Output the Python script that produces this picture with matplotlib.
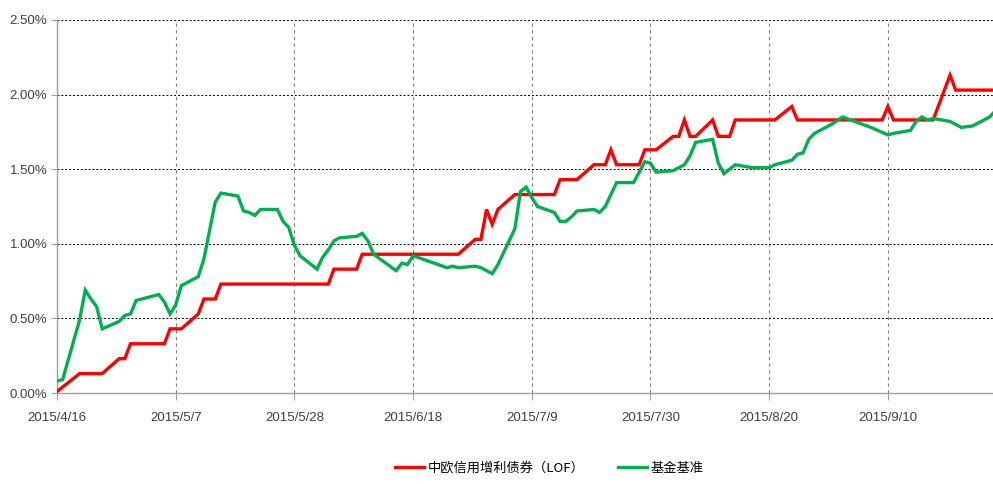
import numpy as np
import pandas as pd
import matplotlib
matplotlib.use('Agg')
import matplotlib.pyplot as plt
import matplotlib.dates as mdates
from matplotlib.ticker import FuncFormatter

# ---- data (cumulative return, %) ----
fund_name = '中欧信用增利债券（LOF）'
bench_name = '基金基准'

fund_dates = ['2015-04-16', '2015-04-20', '2015-04-24', '2015-04-27', '2015-04-28',
              '2015-04-29', '2015-05-05', '2015-05-06', '2015-05-08', '2015-05-11',
              '2015-05-12', '2015-05-14', '2015-05-15', '2015-06-03', '2015-06-04',
              '2015-06-08', '2015-06-09', '2015-06-26', '2015-06-29', '2015-06-30',
              '2015-07-01', '2015-07-02', '2015-07-03', '2015-07-06', '2015-07-13',
              '2015-07-14', '2015-07-17', '2015-07-20', '2015-07-22', '2015-07-23',
              '2015-07-24', '2015-07-28', '2015-07-29', '2015-07-31', '2015-08-03',
              '2015-08-04', '2015-08-05', '2015-08-06', '2015-08-07', '2015-08-10',
              '2015-08-11', '2015-08-13', '2015-08-14', '2015-08-21', '2015-08-24',
              '2015-08-25', '2015-09-09', '2015-09-10', '2015-09-11', '2015-09-18',
              '2015-09-21', '2015-09-22', '2015-09-29']
fund_vals = [0.01, 0.13, 0.13, 0.23, 0.23,
             0.33, 0.33, 0.43, 0.43, 0.53,
             0.63, 0.63, 0.73, 0.73, 0.83,
             0.83, 0.93, 0.93, 1.03, 1.03,
             1.23, 1.13, 1.23, 1.33, 1.33,
             1.43, 1.43, 1.53, 1.53, 1.63,
             1.53, 1.53, 1.63, 1.63, 1.72,
             1.72, 1.83, 1.72, 1.72, 1.83,
             1.72, 1.72, 1.83, 1.83, 1.92,
             1.83, 1.83, 1.92, 1.83, 1.83,
             2.13, 2.03, 2.03]

bench_dates = ['2015-04-16', '2015-04-17', '2015-04-20', '2015-04-21', '2015-04-22',
               '2015-04-23', '2015-04-24', '2015-04-27', '2015-04-28', '2015-04-29',
               '2015-04-30', '2015-05-04', '2015-05-05', '2015-05-06', '2015-05-07',
               '2015-05-08', '2015-05-11', '2015-05-12', '2015-05-13', '2015-05-14',
               '2015-05-15', '2015-05-18', '2015-05-19', '2015-05-20', '2015-05-21',
               '2015-05-22', '2015-05-25', '2015-05-26', '2015-05-27', '2015-05-28',
               '2015-05-29', '2015-06-01', '2015-06-02', '2015-06-03', '2015-06-04',
               '2015-06-05', '2015-06-08', '2015-06-09', '2015-06-10', '2015-06-11',
               '2015-06-15', '2015-06-16', '2015-06-17', '2015-06-18', '2015-06-24',
               '2015-06-25', '2015-06-26', '2015-06-29', '2015-06-30', '2015-07-01',
               '2015-07-02', '2015-07-03', '2015-07-06', '2015-07-07', '2015-07-08',
               '2015-07-09', '2015-07-10', '2015-07-13', '2015-07-14', '2015-07-15',
               '2015-07-16', '2015-07-17', '2015-07-20', '2015-07-21', '2015-07-22',
               '2015-07-24', '2015-07-27', '2015-07-28', '2015-07-29', '2015-07-30',
               '2015-07-31', '2015-08-03', '2015-08-05', '2015-08-06', '2015-08-07',
               '2015-08-10', '2015-08-11', '2015-08-12', '2015-08-14', '2015-08-17',
               '2015-08-20', '2015-08-21', '2015-08-24', '2015-08-25', '2015-08-26',
               '2015-08-27', '2015-08-28', '2015-08-31', '2015-09-02', '2015-09-07',
               '2015-09-10', '2015-09-11', '2015-09-14', '2015-09-15', '2015-09-16',
               '2015-09-17', '2015-09-18', '2015-09-21', '2015-09-23', '2015-09-25',
               '2015-09-28', '2015-09-29']
bench_vals = [0.08, 0.09, 0.49, 0.69, 0.63,
              0.58, 0.43, 0.48, 0.52, 0.53,
              0.62, 0.66, 0.61, 0.53, 0.59,
              0.72, 0.78, 0.90, 1.09, 1.28,
              1.34, 1.32, 1.22, 1.21, 1.19,
              1.23, 1.23, 1.15, 1.11, 0.99,
              0.92, 0.83, 0.91, 0.96, 1.02,
              1.04, 1.05, 1.07, 1.02, 0.93,
              0.82, 0.87, 0.86, 0.92, 0.84,
              0.85, 0.84, 0.85, 0.84, 0.82,
              0.80, 0.86, 1.10, 1.35, 1.38,
              1.31, 1.25, 1.21, 1.15, 1.15,
              1.18, 1.22, 1.23, 1.21, 1.25,
              1.41, 1.41, 1.48, 1.55, 1.54,
              1.48, 1.49, 1.53, 1.59, 1.68,
              1.70, 1.54, 1.47, 1.53, 1.51,
              1.51, 1.53, 1.56, 1.60, 1.61,
              1.70, 1.74, 1.80, 1.85, 1.78,
              1.73, 1.74, 1.76, 1.82, 1.85,
              1.83, 1.84, 1.82, 1.78, 1.79,
              1.85, 1.89]

tick_dates = ['2015-04-16', '2015-05-07', '2015-05-28', '2015-06-18',
              '2015-07-09', '2015-07-30', '2015-08-20', '2015-09-10']
y_ticks = [0.0, 0.5, 1.0, 1.5, 2.0, 2.5]

# ---- plot ----
tick_font = ['Liberation Sans', 'DejaVu Sans']
plt.rcParams['font.family'] = ['Noto Sans CJK SC', 'DejaVu Sans']

fig = plt.figure(figsize=(9.93, 4.84), dpi=100)
ax = fig.add_axes([0.0574, 0.188, 0.9426, 0.7707])

ax.plot(pd.to_datetime(fund_dates), fund_vals, color='#FF0000', lw=2.4,
        label=fund_name, solid_joinstyle='miter', zorder=3)
ax.plot(pd.to_datetime(bench_dates), bench_vals, color='#00B050', lw=2.4,
        label=bench_name, solid_joinstyle='miter', zorder=3)

ax.set_xlim(pd.Timestamp('2015-04-16'), pd.Timestamp('2015-04-16') + pd.Timedelta(days=165.6))
ax.set_ylim(0, 2.5)

ax.set_xticks(pd.to_datetime(tick_dates))
ax.xaxis.set_major_formatter(FuncFormatter(
    lambda v, p: '{0.year}/{0.month}/{0.day}'.format(mdates.num2date(v))))
ax.set_yticks(y_ticks)
ax.yaxis.set_major_formatter(FuncFormatter(lambda v, p: f'{v:.2f}%'))

for lab in ax.get_xticklabels() + ax.get_yticklabels():
    lab.set_family(tick_font)
    lab.set_fontsize(9.5)
    lab.set_color('#404040')

ax.grid(axis='y', color='black', ls=(0, (2, 2)), lw=0.7)
ax.grid(axis='x', color='#808080', ls=(0, (3, 3)), lw=0.8)
ax.set_axisbelow(True)

for s in ['top', 'right']:
    ax.spines[s].set_visible(False)
for s in ['left', 'bottom']:
    ax.spines[s].set_color('#A0A0A0')
    ax.spines[s].set_linewidth(1.0)
ax.tick_params(axis='x', length=5, color='#A0A0A0', pad=9)
ax.tick_params(axis='y', length=4, color='#A0A0A0', pad=3)

fig.legend(loc='lower center', bbox_to_anchor=(0.553, -0.005), ncol=2, frameon=False,
           prop={'family': ['Noto Sans CJK SC', 'DejaVu Sans'], 'size': 9.5},
           handlelength=2.2, handletextpad=0.3, columnspacing=2.5)

fig.savefig('out.png', dpi=100)
